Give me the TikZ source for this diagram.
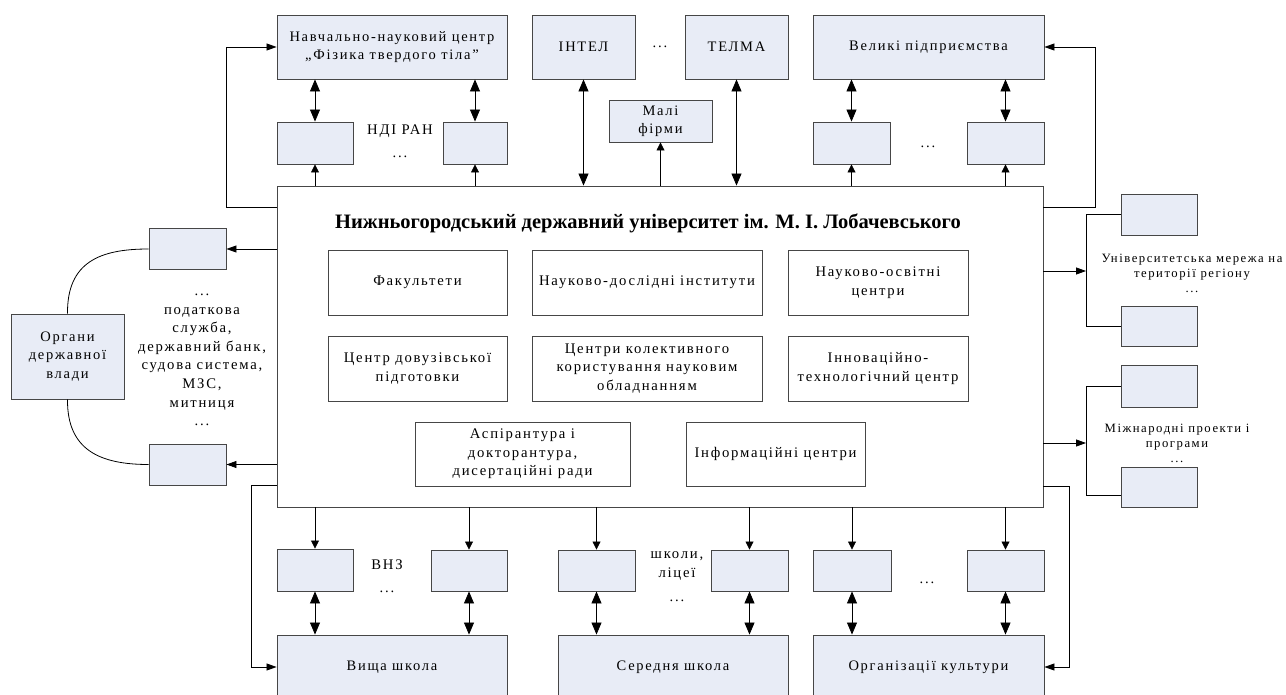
\documentclass[tikz,border=0pt]{standalone}
\usepackage{fontspec}
\setmainfont{Liberation Serif}[LetterSpace=12]
\newfontfamily\tfont{Liberation Serif}
\usetikzlibrary{arrows.meta}
\definecolor{boxfill}{RGB}{232,236,246}
\definecolor{edge}{RGB}{70,70,70}
\begin{document}
\begin{tikzpicture}[x=1pt,y=1pt,
 box/.style={draw=edge, fill=boxfill, line width=0.9pt, inner sep=0pt, align=center, font=\fontsize{14.5}{18.5}\selectfont},
 ibox/.style={draw=edge, fill=white, line width=0.9pt, inner sep=0pt, align=center, font=\fontsize{14.7}{18.5}\selectfont},
 lbl/.style={inner sep=0pt, align=center, font=\fontsize{14.7}{18.6}\selectfont},
 slbl/.style={inner sep=0pt, align=center, font=\fontsize{12.7}{15}\selectfont},
 ln/.style={line width=0.8pt, draw=black},
 ar/.style={ln, -{Triangle[length=8pt,width=8pt]}},
 lar/.style={ln, -{Triangle[length=10pt,width=7pt]}},
 dar/.style={ln, {Triangle[length=12pt,width=10pt]}-{Triangle[length=12pt,width=10pt]}},
]
\clip (0,0) rectangle (1286,-695);
\fill[white] (0,0) rectangle (1286,-695);

% main box
\node[draw=edge, line width=0.9pt, minimum width=766pt, minimum height=321pt, inner sep=0pt] (main) at (660,-346.5) {};
\node[inner sep=0pt, font={\fontsize{20.5}{24}\tfont\bfseries}] (title) at (648,-223) {Нижньогородський державний університет ім. М. І. Лобачевського};

% inner boxes
\node[ibox, minimum width=179pt, minimum height=65pt] (f1) at (417.5,-282.5) {Факультети};
\node[ibox, minimum width=230pt, minimum height=65pt] (f2) at (647,-282.5) {Науково-дослідні інститути};
\node[ibox, minimum width=180pt, minimum height=65pt] (f3) at (878,-282.5) {Науково-освітні\\центри};
\node[ibox, minimum width=179pt, minimum height=65pt] (f4) at (417.5,-368.5) {Центр довузівської\\підготовки};
\node[ibox, minimum width=230pt, minimum height=65pt] (f5) at (647,-368.5) {Центри колективного\\користування науковим\\обладнанням};
\node[ibox, minimum width=180pt, minimum height=65pt] (f6) at (878,-368.5) {Інноваційно-\\технологічний центр};
\node[ibox, minimum width=215pt, minimum height=64pt] (f7) at (522.5,-454) {Аспірантура і\\докторантура,\\дисертаційні ради};
\node[ibox, minimum width=179pt, minimum height=64pt] (f8) at (775.5,-454) {Інформаційні центри};

% top boxes
\node[box, minimum width=230pt, minimum height=64pt] (nnc) at (392,-47) {Навчально-науковий центр\\„Фізика твердого тіла”};
\node[box, minimum width=103pt, minimum height=64pt] (intel) at (583.5,-47) {ІНТЕЛ};
\node[lbl] (tdots) at (660,-47) {...};
\node[box, minimum width=103pt, minimum height=64pt] (telma) at (736.5,-47) {ТЕЛМА};
\node[box, minimum width=231pt, minimum height=64pt] (velyki) at (928.5,-47) {Великі підприємства};
\node[box, minimum width=103pt, minimum height=42pt] (mali) at (660.5,-121) {Малі\\фірми};
\node[box, minimum width=76pt, minimum height=42pt] (ndi1) at (315,-143) {};
\node[box, minimum width=64pt, minimum height=42pt] (ndi2) at (475,-143) {};
\node[lbl] (nditext) at (400,-141) {НДІ РАН\\[4pt]...};
\node[box, minimum width=77pt, minimum height=42pt] (vel1) at (851.5,-143) {};
\node[box, minimum width=77pt, minimum height=42pt] (vel2) at (1005.5,-143) {};
\node[lbl] (veldots) at (928,-147) {...};

% left
\node[box, minimum width=77pt, minimum height=41pt] (gl1) at (187.5,-249) {};
\node[box, minimum width=77pt, minimum height=41pt] (gl2) at (187.5,-464.5) {};
\node[box, minimum width=113pt, minimum height=85pt] (organy) at (67.5,-356.5) {Органи\\державної\\влади};
\node[lbl] (govtext) at (202,-360) {...\\податкова\\служба,\\державний банк,\\судова система,\\МЗС,\\митниця\\...};

% right
\node[box, minimum width=76pt, minimum height=41pt] (un1) at (1159,-214.5) {};
\node[box, minimum width=76pt, minimum height=40pt] (un2) at (1159,-326) {};
\node[slbl] (untext) at (1192,-273) {Університетська мережа на\\території регіону\\...};
\node[box, minimum width=76pt, minimum height=42pt] (ip1) at (1159,-386) {};
\node[box, minimum width=76pt, minimum height=40pt] (ip2) at (1159,-487) {};
\node[slbl] (iptext) at (1177,-443) {Міжнародні проекти і\\програми\\...};

% bottom small boxes
\node[box, minimum width=76pt, minimum height=42pt] (b1) at (315,-570) {};
\node[box, minimum width=76pt, minimum height=41pt] (b2) at (469,-570.5) {};
\node[box, minimum width=77pt, minimum height=41pt] (b3) at (596.5,-570.5) {};
\node[box, minimum width=77pt, minimum height=41pt] (b4) at (749.5,-570.5) {};
\node[box, minimum width=78pt, minimum height=41pt] (b5) at (852,-570.5) {};
\node[box, minimum width=77pt, minimum height=41pt] (b6) at (1005.5,-570.5) {};
\node[lbl] (vnztext) at (387,-576) {ВНЗ\\[4pt]...};
\node[lbl] (shktext) at (677,-577) {школи,\\ліцеї\\[6pt]...};
\node[lbl] (bdots) at (927,-583) {...};

% bottom big boxes
\node[box, minimum width=230pt, minimum height=64pt] (vs) at (392,-667) {Вища школа};
\node[box, minimum width=230pt, minimum height=64pt] (ss) at (673,-667) {Середня школа};
\node[box, minimum width=231pt, minimum height=64pt] (ok) at (928.5,-667) {Організації культури};

% top connectors
\draw[dar] (ndi1.north) -- (ndi1.north |- nnc.south);
\draw[dar] (ndi2.north) -- (ndi2.north |- nnc.south);
\draw[ar] (ndi1.south |- main.north) -- (ndi1.south);
\draw[ar] (ndi2.south |- main.north) -- (ndi2.south);
\draw[dar] (intel.south) -- (intel.south |- main.north);
\draw[dar] (telma.south) -- (telma.south |- main.north);
\draw[ar] (mali.south |- main.north) -- (mali.south);
\draw[dar] (vel1.north) -- (vel1.north |- velyki.south);
\draw[dar] (vel2.north) -- (vel2.north |- velyki.south);
\draw[ar] (vel1.south |- main.north) -- (vel1.south);
\draw[ar] (vel2.south |- main.north) -- (vel2.south);

\coordinate (lt) at (226,-207);
\draw[lar] (lt -| main.west) -- (lt) -- (lt |- nnc.west) -- (nnc.west);
\coordinate (rt) at (1095,-207);
\draw[lar] (rt -| main.east) -- (rt) -- (rt |- velyki.east) -- (velyki.east);

% left connectors
\draw[lar] (gl1.east -| main.west) -- (gl1.east);
\draw[lar] (gl2.east -| main.west) -- (gl2.east);
\draw[ln] (gl1.west) .. controls (100,-249) and (67,-262) .. (organy.north);
\draw[ln] (organy.south) .. controls (67,-450) and (100,-464.5) .. (gl2.west);

% right connectors
\coordinate (ub) at (1086,-271);
\draw[ln] (un1.west) -- (un1.west -| ub) -- (un2.west -| ub) -- (un2.west);
\draw[lar] (ub -| main.east) -- (ub);
\coordinate (ib) at (1086,-443);
\coordinate (ipb) at (1086,-495);
\draw[ln] (ip1.west) -- (ip1.west -| ib) -- (ipb) -- (ipb -| ip2.west);
\draw[lar] (ib -| main.east) -- (ib);

% bottom connectors
\foreach \b/\t in {b1/vs, b2/vs, b3/ss, b4/ss, b5/ok, b6/ok} {
  \draw[ar] (\b.north |- main.south) -- (\b.north);
  \draw[dar] (\b.south) -- (\b.south |- \t.north);
}
\coordinate (lb) at (251,-485);
\draw[lar] (lb -| main.west) -- (lb) -- (lb |- vs.west) -- (vs.west);
\coordinate (rb) at (1069,-486);
\draw[lar] (rb -| main.east) -- (rb) -- (rb |- ok.east) -- (ok.east);
\end{tikzpicture}
\end{document}
